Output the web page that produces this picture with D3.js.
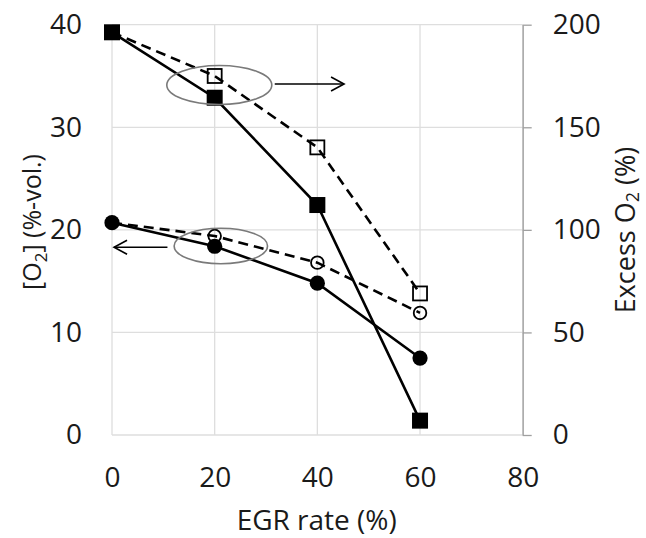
<!DOCTYPE html>
<html><head><meta charset="utf-8">
<script src="https://cdn.jsdelivr.net/npm/d3@7"></script>
<style>body{margin:0;background:#fff}svg{display:block}text{font-family:"Open Sans",sans-serif;fill:#1a1a1a}</style>
</head><body>
<svg id="c" width="646" height="538"></svg>
<script>
const egr = [0, 20, 40, 60];
const o2Solid = [20.7, 18.4, 14.8, 7.5];      // [O2] filled circles (left axis)
const o2Open = [20.7, 19.4, 16.8, 11.9];      // open circles, dashed (left axis)
const excessSolid = [196.3, 164.4, 112.1, 7.0]; // filled squares (right axis)
const excessOpen = [196.3, 175.0, 140.2, 69.0]; // open squares, dashed (right axis)
const xTicks = [0, 20, 40, 60, 80];
const yLeftTicks = [0, 10, 20, 30, 40];
const yRightTicks = [0, 50, 100, 150, 200];

const svg = d3.select("#c");
const L = 112, R = 522.7, T = 24.7, B = 435;
const x = d3.scaleLinear().domain([0, 80]).range([L, R]);
const yL = d3.scaleLinear().domain([0, 40]).range([B, T]);
const yR = d3.scaleLinear().domain([0, 200]).range([B, T]);

// gridlines
const g = svg.append("g");
g.selectAll(".gx").data(xTicks).join("line")
  .attr("x1", d => x(d)).attr("x2", d => x(d)).attr("y1", T).attr("y2", B)
  .attr("stroke", "#dedede").attr("stroke-width", 1.3);
g.selectAll(".gy").data(yLeftTicks).join("line")
  .attr("x1", L).attr("x2", R).attr("y1", d => yL(d)).attr("y2", d => yL(d))
  .attr("stroke", "#dedede").attr("stroke-width", 1.3);

// right axis
const ra = svg.append("g").attr("transform", `translate(${R},0)`)
  .call(d3.axisRight(yR).tickValues(yRightTicks).tickSize(9).tickPadding(21).tickSizeOuter(0));
ra.select(".domain").attr("stroke", "#a0a0a0").attr("stroke-width", 1.3);
ra.selectAll(".tick line").attr("stroke", "#a0a0a0").attr("stroke-width", 1.3);
ra.selectAll("text").attr("font-size", 28).attr("fill", "#1a1a1a").attr("font-family", "Open Sans");

// left axis labels
const la = svg.append("g").attr("transform", `translate(${L},0)`)
  .call(d3.axisLeft(yL).tickValues(yLeftTicks).tickSize(0).tickPadding(30));
la.select(".domain").remove();
la.selectAll("text").attr("font-size", 28).attr("fill", "#1a1a1a").attr("font-family", "Open Sans");

// bottom axis labels
const ba = svg.append("g").attr("transform", `translate(0,${B})`)
  .call(d3.axisBottom(x).tickValues(xTicks).tickSize(0).tickPadding(32));
ba.select(".domain").remove();
ba.selectAll("text").attr("font-size", 28).attr("fill", "#1a1a1a").attr("font-family", "Open Sans");

// titles
svg.append("text").attr("x", 316.7).attr("y", 530).attr("text-anchor", "middle")
  .attr("font-size", 28).text("EGR rate (%)");
const lt = svg.append("text").attr("transform", "translate(41,222) rotate(-90)")
  .attr("text-anchor", "middle").attr("font-size", 25);
lt.append("tspan").text("[O");
lt.append("tspan").attr("font-size", 17).attr("dy", 6).text("2");
lt.append("tspan").attr("dy", -6).text("] (%-vol.)");
const rt = svg.append("text").attr("transform", "translate(635,230) rotate(-90)")
  .attr("text-anchor", "middle").attr("font-size", 27);
rt.append("tspan").text("Excess O");
rt.append("tspan").attr("font-size", 18).attr("dy", 4).text("2");
rt.append("tspan").attr("dy", -4).text(" (%)");

// lines
const pts = (ys, sc) => egr.map((e, i) => [x(e), sc(ys[i])]);
const line = d3.line();
const lines = [
  {d: pts(excessOpen, yR), dash: "10,6"},
  {d: pts(o2Open, yL), dash: "10,6"},
  {d: pts(excessSolid, yR), dash: null},
  {d: pts(o2Solid, yL), dash: null}
];
lines.forEach(l => svg.append("path").attr("d", line(l.d)).attr("fill", "none")
  .attr("stroke", "#000").attr("stroke-width", 2.6).attr("stroke-dasharray", l.dash));

// open markers (skip first, hidden under filled markers)
svg.selectAll(".os").data(pts(excessOpen, yR).slice(1)).join("rect")
  .attr("x", d => d[0] - 7).attr("y", d => d[1] - 7).attr("width", 14).attr("height", 14)
  .attr("fill", "none").attr("stroke", "#000").attr("stroke-width", 1.8);
svg.selectAll(".oc").data(pts(o2Open, yL).slice(1)).join("circle")
  .attr("cx", d => d[0]).attr("cy", d => d[1]).attr("r", 6.3)
  .attr("fill", "none").attr("stroke", "#000").attr("stroke-width", 1.8);
// filled markers
svg.selectAll(".fs").data(pts(excessSolid, yR)).join("rect")
  .attr("x", d => d[0] - 8).attr("y", d => d[1] - 8).attr("width", 16).attr("height", 16)
  .attr("fill", "#000");
svg.selectAll(".fc").data(pts(o2Solid, yL)).join("circle")
  .attr("cx", d => d[0]).attr("cy", d => d[1]).attr("r", 7.6).attr("fill", "#000");

// ellipses and arrows (annotations, anchored in data space)
const ann = [
  {cx: 20.9, cy: yR.invert(85), rx: 52.5, ry: 19.5, sc: yR, ax1: 31.7, ax2: 45.2, ay: yR.invert(84)},
  {cx: 21.2, cy: yL.invert(246), rx: 46.7, ry: 17.8, sc: yL, ax1: 10.8, ax2: 0.4, ay: yL.invert(247.3)}
];
ann.forEach(a => {
  svg.append("ellipse").attr("cx", x(a.cx)).attr("cy", a.sc(a.cy)).attr("rx", a.rx).attr("ry", a.ry)
    .attr("fill", "none").attr("stroke", "#7a7a7a").attr("stroke-width", 1.6);
  const x1 = x(a.ax1), x2 = x(a.ax2), yy = a.sc(a.ay), dir = Math.sign(x2 - x1);
  svg.append("line").attr("x1", x1).attr("x2", x2).attr("y1", yy).attr("y2", yy)
    .attr("stroke", "#000").attr("stroke-width", 1.6);
  svg.append("path").attr("d", `M${x2 - dir * 13},${yy - 7}L${x2},${yy}L${x2 - dir * 13},${yy + 7}`)
    .attr("fill", "none").attr("stroke", "#000").attr("stroke-width", 1.6);
});
</script>
</body></html>
